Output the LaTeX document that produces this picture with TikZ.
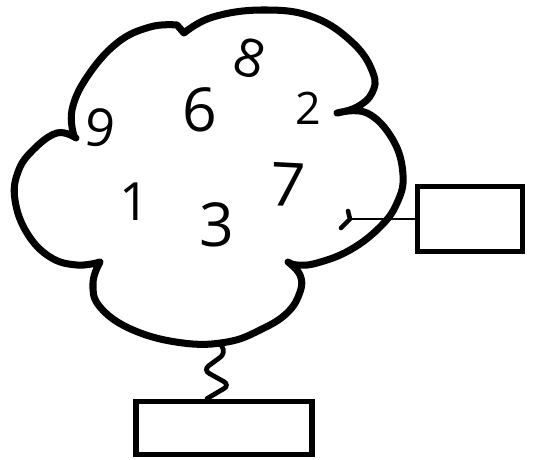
\documentclass[tikz,border=0pt]{standalone}
\usepackage{fontspec}
\setsansfont{Open Sans}
\usetikzlibrary{positioning,calc}
\begin{document}
\begin{tikzpicture}[
    x=0.02cm, y=-0.02cm,
    cloud/.style={line width=4pt, line cap=round, line join=round},
    box/.style={rectangle, draw, line width=3.3pt, inner sep=0pt},
    digit/.style={font=\sffamily\fontsize{30}{30}\selectfont, inner sep=0pt},
    wire/.style={line width=1.6pt, line cap=round},
    hook/.style={line width=2.6pt, line cap=round, line join=round},
    spring/.style={line width=2.7pt, line cap=round, rounded corners=4pt}
]
\useasboundingbox (0,0) rectangle (536,459);

% Cloud, lobe by lobe
\draw[cloud]
    plot[smooth, tension=0.7] coordinates {(74,136) (72,110) (87,77) (117,43) (150,27) (177,25)} -- (184,33)
    plot[smooth, tension=0.7] coordinates {(184,33) (213,17) (263,10) (313,17) (353,43) (373,73) (372,93) (357,107) (337,113)}
    plot[smooth, tension=0.7] coordinates {(337,113) (367,113) (393,140) (403,175) (397,203) (380,227) (350,250) (317,263) (297,265) (288,262)}
    plot[smooth, tension=0.7] coordinates {(288,262) (300,275) (300,292) (287,313) (260,330) (227,342) (183,343) (133,330) (100,307) (93,283) (100,262)}
    plot[smooth, tension=0.7] coordinates {(100,262) (77,265) (50,257) (27,233) (15,200) (18,172) (33,150) (57,133) (76,138)};

% Digits
\node[digit, rotate=-15] (d8) at (250,58) {8};
\node[digit, rotate=-8] (d9) at (100,128) {9};
\node[digit, scale=1.15] (d6) at (200,110) {6};
\node[digit, scale=0.85] (d2) at (308,108) {2};
\node[digit] (d1) at (135,202) {1};
\node[digit, scale=1.15] (d3) at (217,225) {3};
\node[digit, scale=1.15, rotate=-3] (d7) at (288,185) {7};

% Boxes
\node[box, minimum width=2.1cm, minimum height=1.3cm] (rbox) at (470,219) {};
\node[box, minimum width=3.52cm, minimum height=1.06cm] (bbox) at (224,428) {};

% Hook and wire to the right box
\coordinate (port) at (350,219);
\draw[hook] (348,211) -- (port) -- (341,228);
\draw[wire] (port) -- (rbox.west);

% Spring to the lower box
\coordinate (sp) at (221,345);
\draw[spring] (sp) -- (226,353) -- (203,370) -- (230,385) -- ([xshift=-0.34cm]bbox.north);

\end{tikzpicture}
\end{document}
